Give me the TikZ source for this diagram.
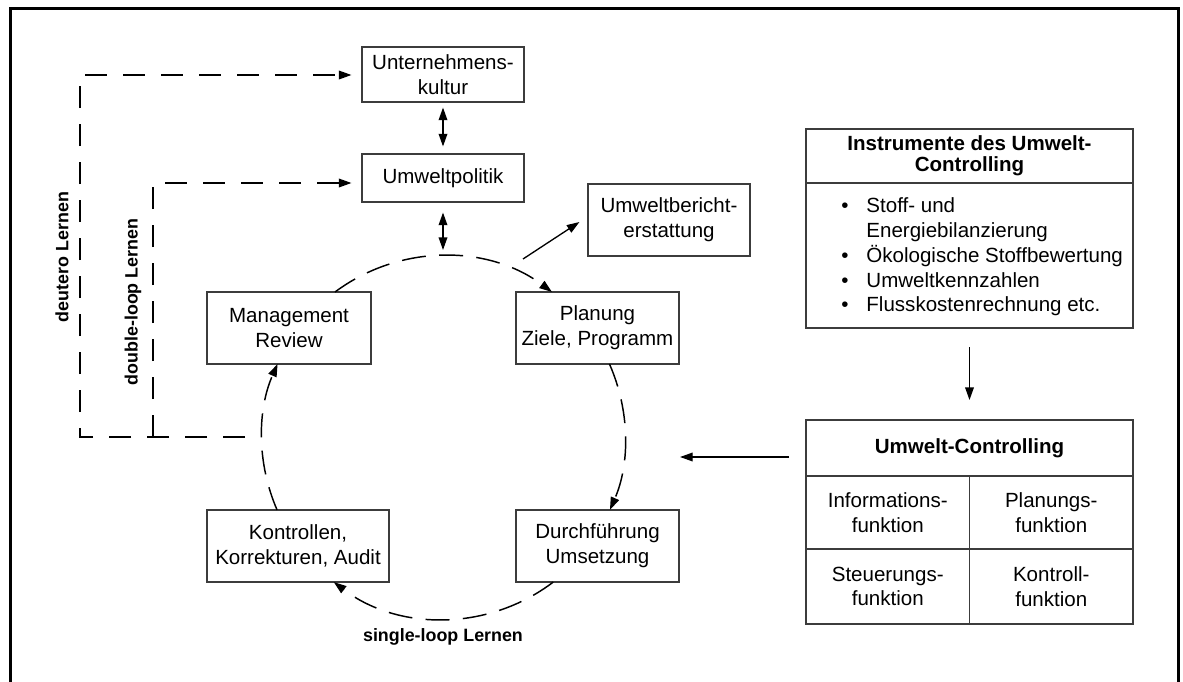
\documentclass[tikz,border=0pt]{standalone}
\usepackage{fontspec}
\setmainfont{Liberation Sans}
\usepackage{tikz}
\usetikzlibrary{arrows.meta,positioning,calc}
\definecolor{umedge}{RGB}{60,60,60}
\definecolor{umink}{RGB}{0,0,0}
\tikzset{
  ubox/.style={
    draw=umedge, line width=0.8pt, align=center, inner sep=2pt,
    font=\fontsize{15.4}{18.6}\selectfont, text=umink
  },
  stage/.style={ubox, minimum width=121.5pt, minimum height=54pt},
  cell/.style={ubox, outer sep=0pt, minimum width=122.625pt},
  lbl/.style={font=\fontsize{13.4}{16}\selectfont\bfseries, text=umink, inner sep=0pt},
  arr/.style={-{Triangle[length=9.5pt,width=6.5pt]}, draw=black, line width=1pt},
  darr/.style={arr, {Triangle[length=9.5pt,width=6.5pt]}-{Triangle[length=9.5pt,width=6.5pt]}},
  fb/.style={arr, line width=1.1pt, dash pattern=on 16.5pt off 12pt},
  cycl/.style={arr, line width=1.1pt, dash pattern=on 18pt off 10pt},
  frame/.style={draw=black, line width=2.25pt}
}
\begin{document}
\begin{tikzpicture}[x=0.75pt, y=-0.75pt]
  \useasboundingbox (0,0) rectangle (1183,682);
  \draw[frame] (10,682) -- (10,8.3) -- (1178,8.3) -- (1178,682);

  \node[stage, minimum height=41.25pt] (kultur) at (443,74.5) {Unternehmens-\\kultur};
  \node[stage, minimum height=36pt] (politik) at (443,178) {Umweltpolitik};
  \node[stage] (bericht) at (669,220) {Umweltbericht-\\erstattung};
  \node[stage, minimum width=123pt] (mr) at (289,328) {Management\\Review};
  \node[stage, minimum width=122.25pt] (plan) at (597.5,328) {Planung\\Ziele, Programm};
  \node[stage, minimum width=136.5pt] (kontr) at (298,546) {Kontrollen,\\Korrekturen, Audit};
  \node[stage, minimum width=122.25pt] (durch) at (597.5,546) {Durchführung\\Umsetzung};

  \node[ubox, outer sep=0pt, minimum width=245.25pt, minimum height=40.5pt, font=\fontsize{15.4}{16}\selectfont\bfseries]
    (instHead) at (969.5,156) {Instrumente des Umwelt-\\Controlling};
  \node[ubox, outer sep=0pt, minimum width=245.25pt, minimum height=108.75pt, below=0pt of instHead] (instBody) {};
  \node[anchor=west, inner sep=0pt, font=\fontsize{15.4}{18.56}\selectfont] (instList) at (841,257.5)
    {\begin{tabular}{@{}l@{\hspace{13.5pt}}l@{}}
     \textbullet & Stoff- und\\
                 & Energiebilanzierung\\
     \textbullet & Ökologische Stoffbewertung\\
     \textbullet & Umweltkennzahlen\\
     \textbullet & Flusskostenrechnung etc.
     \end{tabular}};

  \node[ubox, outer sep=0pt, minimum width=245.25pt, minimum height=42pt, font=\fontsize{15.4}{18}\selectfont\bfseries]
    (ctlHead) at (969.5,448) {Umwelt-Controlling};
  \node[cell, minimum height=54.75pt, below right=0pt and 0pt of ctlHead.south west] (fInfo) {Informations-\\funktion};
  \node[cell, minimum height=54.75pt, right=0pt of fInfo] (fPlan) {Planungs-\\funktion};
  \node[cell, minimum height=56.25pt, below=0pt of fInfo] (fSteu) {Steuerungs-\\funktion};
  \node[cell, minimum height=56.25pt, right=0pt of fSteu] (fKontr) {Kontroll-\\funktion};

  \coordinate (cyc) at (443.5,437.5);
  \coordinate (cycTop) at (443,250);
  \coordinate (brStart) at (523,259);
  \coordinate (ctlIn) at (680,457);
  \coordinate (fbStart) at (245,437);
  \coordinate (deutCorner) at (80,437);
  \coordinate (dblCorner) at (153,437);

  \draw[cycl] ([shift={(-126.7:181.5)}]cyc) arc[start angle=-126.7, end angle=-53.3, radius=181.5];
  \draw[cycl] ([shift={(-23.9:181.5)}]cyc) arc[start angle=-23.9, end angle=23.5, radius=181.5];
  \draw[cycl] ([shift={(52.8:181.5)}]cyc) arc[start angle=52.8, end angle=127.2, radius=181.5];
  \draw[cycl] ([shift={(156.5:181.5)}]cyc) arc[start angle=156.5, end angle=203.9, radius=181.5];

  \draw[darr, shorten <=3.75pt, shorten >=5.25pt] (kultur) -- (politik);
  \draw[darr, shorten <=7.5pt] (politik.south) -- (cycTop);
  \draw[arr] (brStart) -- ($(bericht.west)+(-8,2)$);
  \draw[arr, shorten <=14.25pt, shorten >=15pt] (instBody.south) -- (ctlHead.north);
  \draw[arr] ($(ctlHead.west)+(-17,9)$) -- (ctlIn);

  \draw[fb] (fbStart) -- (deutCorner) |- ($(kultur.west)+(-10,0.5)$);
  \draw[fb] (dblCorner) |- ($(politik.west)+(-10,5)$);

  \node[lbl, rotate=90] (deutLbl) at (62,257) {deutero Lernen};
  \node[lbl, rotate=90] (dblLbl) at (133,302) {double-loop Lernen};
  \node[lbl] (sglLbl) at (443,637) {single-loop Lernen};
\end{tikzpicture}
\end{document}
